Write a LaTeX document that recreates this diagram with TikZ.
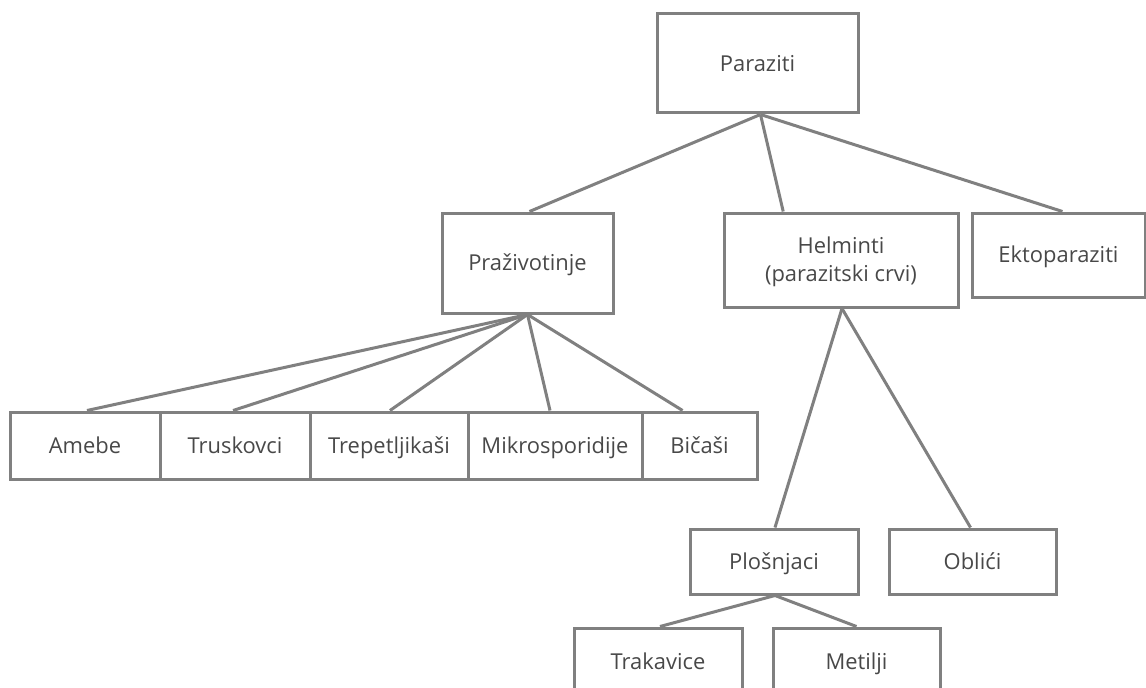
\documentclass[tikz,border=0pt]{standalone}
\usepackage{fontspec}
\setmainfont{Open Sans}
\definecolor{edgegray}{HTML}{808080}
\definecolor{textgray}{HTML}{484848}
\newcommand{\mystrut}{\vphantom{ÁgjpŽ}}
\tikzset{
  box/.style={draw=edgegray, line width=3bp, rectangle, inner sep=0pt, align=center,
    text=textgray, font=\fontsize{22}{28.5}\selectfont},
  link/.style={draw=edgegray, line width=3bp}
}
\newcommand{\bx}[7]{% name, x1, y1, x2, y2, text
  \node[box, minimum width={(#4-#2)*1bp}, minimum height={(#5-#3)*1bp}] (#1) at ({(#2+#4)/2},{(#3+#5)/2}) {#6};}
\begin{document}
\begin{tikzpicture}[x=1bp,y=-1bp]
\useasboundingbox (0,0) rectangle (1146,688);
\clip (0,0) rectangle (1146,688);
\fill[white] (0,0) rectangle (1146,688);
\bx{par}{657}{14}{858}{113}{\mystrut Paraziti}{}
\bx{prz}{442}{213}{613}{313}{\mystrut Praživotinje}{}
\bx{hel}{724}{213}{958}{307}{\mystrut Helminti\\\mystrut(parazitski crvi)}{}
\bx{ekt}{972}{213}{1145}{297}{\mystrut Ektoparaziti}{}
\bx{ame}{10}{412}{160}{479}{\mystrut Amebe}{}
\bx{tru}{160}{412}{310}{479}{\mystrut Truskovci}{}
\bx{tre}{310}{412}{468}{479}{\mystrut Trepetljikaši}{}
\bx{mik}{468}{412}{642}{479}{\mystrut Mikrosporidije}{}
\bx{bic}{642}{412}{757}{479}{\mystrut Bičaši}{}
\bx{plo}{690}{529}{858}{594}{\mystrut Plošnjaci}{}
\bx{obl}{889}{529}{1056}{594}{\mystrut Oblići}{}
\bx{tra}{574}{628}{742}{695}{\mystrut Trakavice}{}
\bx{met}{773}{628}{940}{695}{\mystrut Metilji}{}
\draw[link] ([xshift=3]par.south) -- ([xshift=2]prz.north);
\draw[link] ([xshift=3]par.south) -- ([xshift=-58]hel.north);
\draw[link] ([xshift=3]par.south) -- ([xshift=4]ekt.north);
\draw[link] (prz.south) -- ([xshift=2]ame.north);
\draw[link] (prz.south) -- ([xshift=-2]tru.north);
\draw[link] (prz.south) -- ([xshift=1]tre.north);
\draw[link] (prz.south) -- ([xshift=-5]mik.north);
\draw[link] (prz.south) -- ([xshift=-17]bic.north);
\draw[link] ([xshift=1]hel.south) -- ([xshift=1]plo.north);
\draw[link] ([xshift=1]hel.south) -- ([xshift=-2]obl.north);
\draw[link] ([xshift=1]plo.south) -- ([xshift=2]tra.north);
\draw[link] ([xshift=1]plo.south) -- (met.north);
\end{tikzpicture}
\end{document}
